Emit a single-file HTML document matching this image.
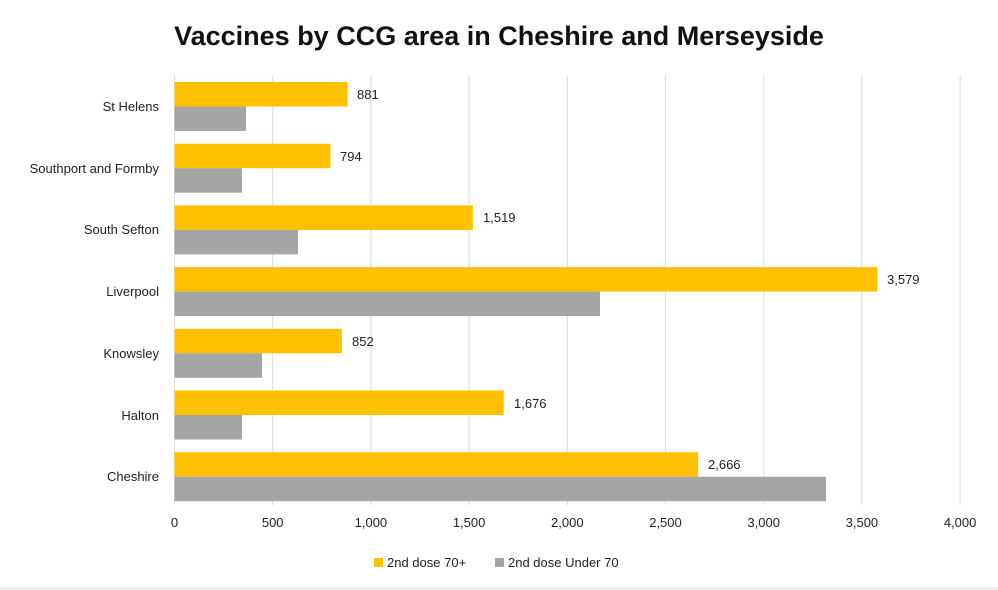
<!DOCTYPE html>
<html><head><style>
html,body{margin:0;padding:0;background:#fff;}
svg{display:block;font-family:"Liberation Sans",Calibri,sans-serif;}
</style></head><body>
<svg width="998" height="590" viewBox="0 0 998 590">
<rect width="998" height="590" fill="#fff"/>
<text x="499" y="45" text-anchor="middle" font-size="27" font-weight="bold" fill="#111">Vaccines by CCG area in Cheshire and Merseyside</text>
<g stroke="#dcdcdc" stroke-width="1">
<line x1="174.5" y1="75" x2="174.5" y2="505"/>
<line x1="272.7" y1="75" x2="272.7" y2="505"/>
<line x1="370.9" y1="75" x2="370.9" y2="505"/>
<line x1="469.1" y1="75" x2="469.1" y2="505"/>
<line x1="567.3" y1="75" x2="567.3" y2="505"/>
<line x1="665.5" y1="75" x2="665.5" y2="505"/>
<line x1="763.7" y1="75" x2="763.7" y2="505"/>
<line x1="861.9" y1="75" x2="861.9" y2="505"/>
<line x1="960.1" y1="75" x2="960.1" y2="505"/>
</g>
<g fill="#ffc000">
<rect x="174.5" y="82" width="173" height="24.5"/>
<rect x="174.5" y="143.7" width="155.9" height="24.5"/>
<rect x="174.5" y="205.4" width="298.3" height="24.5"/>
<rect x="174.5" y="267.1" width="702.9" height="24.5"/>
<rect x="174.5" y="328.8" width="167.3" height="24.5"/>
<rect x="174.5" y="390.5" width="329.2" height="24.5"/>
<rect x="174.5" y="452.2" width="523.6" height="24.5"/>
</g>
<g fill="#a5a5a5">
<rect x="174.5" y="106.5" width="71.5" height="24.5"/>
<rect x="174.5" y="168.2" width="67.5" height="24.5"/>
<rect x="174.5" y="229.9" width="123.5" height="24.5"/>
<rect x="174.5" y="291.6" width="425.5" height="24.5"/>
<rect x="174.5" y="353.3" width="87.5" height="24.5"/>
<rect x="174.5" y="415" width="67.5" height="24.5"/>
<rect x="174.5" y="476.7" width="651.5" height="24.5"/>
</g>
<g font-size="13" fill="#222">
<text x="357" y="99">881</text>
<text x="340" y="161">794</text>
<text x="483" y="222">1,519</text>
<text x="887" y="284">3,579</text>
<text x="352" y="346">852</text>
<text x="514" y="408">1,676</text>
<text x="708" y="469">2,666</text>
</g>
<g font-size="13" fill="#222" text-anchor="end">
<text x="159" y="111">St Helens</text>
<text x="159" y="173">Southport and Formby</text>
<text x="159" y="234">South Sefton</text>
<text x="159" y="296">Liverpool</text>
<text x="159" y="358">Knowsley</text>
<text x="159" y="420">Halton</text>
<text x="159" y="481">Cheshire</text>
</g>
<g font-size="13" fill="#222" text-anchor="middle">
<text x="174.5" y="527">0</text>
<text x="272.7" y="527">500</text>
<text x="370.9" y="527">1,000</text>
<text x="469.1" y="527">1,500</text>
<text x="567.3" y="527">2,000</text>
<text x="665.5" y="527">2,500</text>
<text x="763.7" y="527">3,000</text>
<text x="861.9" y="527">3,500</text>
<text x="960.1" y="527">4,000</text>
</g>
<rect x="374" y="558" width="9" height="9" fill="#ffc000"/>
<text x="387" y="567" font-size="13" fill="#222">2nd dose 70+</text>
<rect x="495" y="558" width="9" height="9" fill="#a5a5a5"/>
<text x="508" y="567" font-size="13" fill="#222">2nd dose Under 70</text>
<line x1="0" y1="588.5" x2="998" y2="588.5" stroke="#ddd"/>
</svg>
</body></html>
